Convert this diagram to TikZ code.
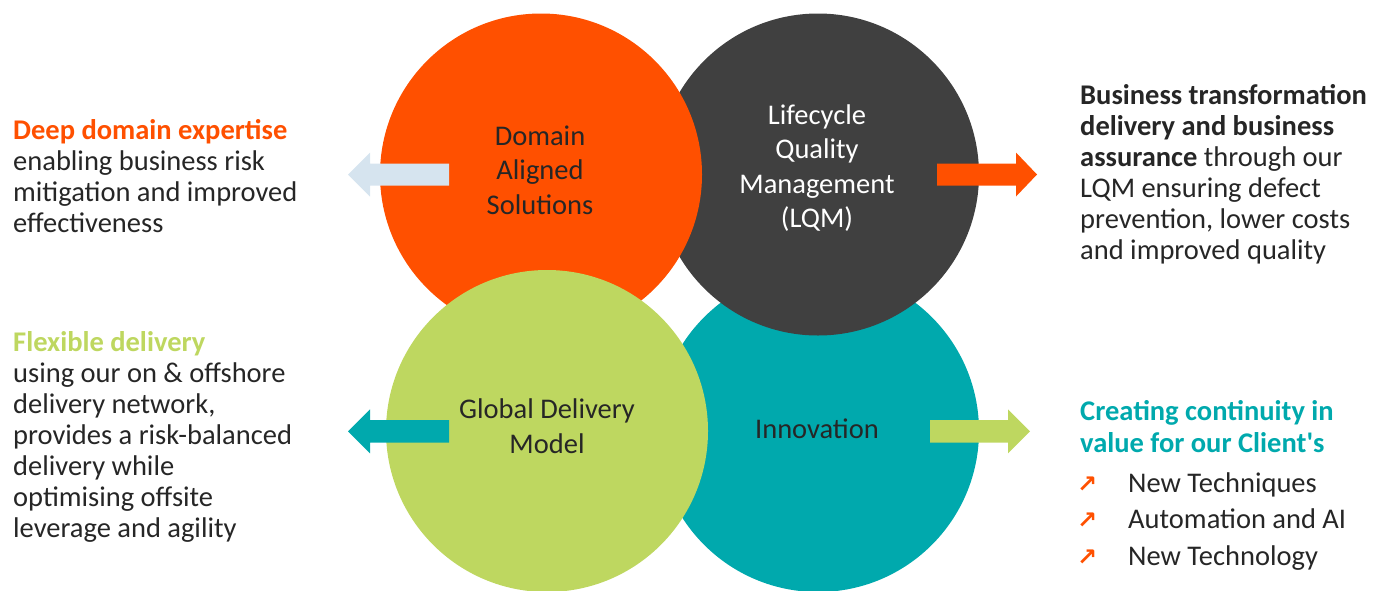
\documentclass[tikz,border=0pt]{standalone}
\usepackage{fontspec}
\setmainfont{Carlito}
\newfontfamily\symbfont{DejaVu Sans}
\usetikzlibrary{shapes.geometric,arrows}
\definecolor{lqmorange}{HTML}{FF5000}
\definecolor{lqmdark}{HTML}{404040}
\definecolor{lqmgreen}{HTML}{BED760}
\definecolor{lqmteal}{HTML}{00A9AD}
\definecolor{lqmblue}{HTML}{D6E4EF}
\definecolor{lqmink}{HTML}{262626}
\tikzset{
  bubble/.style={circle, minimum size=322pt, inner sep=0pt, draw=none},
  bubbletext/.style={font=\fontsize{28.5}{34.5}\selectfont, align=center, anchor=base, inner sep=0pt, text=lqmink},
  sidetext/.style={font=\fontsize{28.5}{31}\selectfont, align=left, anchor=base west, inner sep=0pt, text=lqmink},
  bullettext/.style={font=\fontsize{28.5}{31}\selectfont, anchor=base west, inner sep=0pt, text=lqmink},
  bulletmark/.style={anchor=base west, inner sep=0pt, text=lqmorange, font=\symbfont\bfseries\fontsize{24}{24}\selectfont},
}

\begin{document}
\begin{tikzpicture}[x=1pt,y=-1pt]
\useasboundingbox (0,0) rectangle (1383,590);
\clip (0,0) rectangle (1383,590);
%
% the four circles, back to front
\node[bubble,fill=lqmteal] (innov) at (818,431) {};
\node[bubble,fill=lqmdark] (lqm) at (818,174.5) {};
\node[bubble,fill=lqmorange] (domain) at (541,174.5) {};
\node[bubble,fill=lqmgreen] (global) at (547,431) {};
%
% labels (anchor at the baseline of the last line)
\node[bubbletext] (domaintxt) at (540,214.4) {Domain\\Aligned\\Solutions};
\node[bubbletext,text=white] (lqmtxt) at (817,227.6) {Lifecycle\\Quality\\Management\\(LQM)};
\node[bubbletext] (globaltxt) at (547,453.4) {Global Delivery\\Model};
\node[bubbletext] (innovtxt) at (817,438.3) {Innovation};
%
% block arrows
\fill[lqmblue] (449,163.5) -- (370,163.5) -- (370,152.5) -- (348,174.5)
  -- (370,196.5) -- (370,185.5) -- (449,185.5) -- cycle;
\fill[lqmorange] (937,163.5) -- (1016,163.5) -- (1016,152.5) -- (1037,174.5)
  -- (1016,196.5) -- (1016,185.5) -- (937,185.5) -- cycle;
\fill[lqmteal] (449,420) -- (370,420) -- (370,409.3) -- (348,431.3)
  -- (370,453.3) -- (370,442.7) -- (449,442.7) -- cycle;
\fill[lqmgreen] (930,420) -- (1008,420) -- (1008,409.3) -- (1030,431.3)
  -- (1008,453.3) -- (1008,442.7) -- (930,442.7) -- cycle;
%
% side texts
\node[sidetext] (deeptxt) at (13,232) {\textcolor{lqmorange}{\bfseries Deep domain expertise}\\
  enabling business risk\\mitigation and improved\\effectiveness};
\node[sidetext] (flextxt) at (13,537.5) {\textcolor{lqmgreen}{\bfseries Flexible delivery}\\
  using our on \& offshore\\delivery network,\\provides a risk-balanced\\
  delivery while\\optimising offsite\\leverage and agility};
\node[sidetext] (bustxt) at (1080,259.5) {\textbf{Business transformation}\\
  \textbf{delivery and business}\\\textbf{assurance} through our\\LQM ensuring defect\\
  prevention, lower costs\\and improved quality};
\node[sidetext,text=lqmteal,font=\fontsize{28.5}{32}\selectfont\bfseries] (conttxt) at (1080,452.7)
  {Creating continuity in\\value for our Client\textquotesingle s};
%
% list with arrow bullets
\node[bullettext] (item1) at (1128,492.7) {New Techniques};
\node[bullettext] (item2) at (1128,528.7) {Automation and AI};
\node[bullettext] (item3) at (1128,565.2) {New Technology};
\node[bulletmark] (mark1) at (1077,492.7) {↗};
\node[bulletmark] (mark2) at (1077,528.7) {↗};
\node[bulletmark] (mark3) at (1077,565.2) {↗};
\end{tikzpicture}
\end{document}
